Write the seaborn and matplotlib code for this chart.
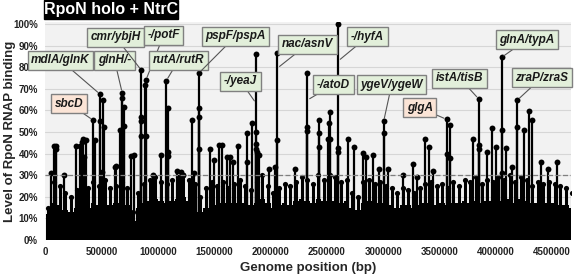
import matplotlib
matplotlib.use("Agg")
import matplotlib.pyplot as plt
import seaborn as sns
import pandas as pd

# dense background signal, one value per 50 kb window (start position)
floor_pos = list(range(0, 4700000, 50000))
floor_lo = [0.12, 0.17, 0.16, 0.14, 0.13, 0.15, 0.16, 0.15, 0.17, 0.16,
            0.17, 0.16, 0.17, 0.18, 0.16, 0.09, 0.15, 0.17, 0.18, 0.19,
            0.18, 0.17, 0.18, 0.19, 0.20, 0.18, 0.17, 0.13, 0.15, 0.17,
            0.16, 0.17, 0.16, 0.17, 0.18, 0.17, 0.16, 0.17, 0.19, 0.17,
            0.15, 0.16, 0.17, 0.16, 0.18, 0.19, 0.18, 0.17, 0.19, 0.18,
            0.19, 0.18, 0.17, 0.18, 0.15, 0.14, 0.17, 0.18, 0.17, 0.17,
            0.16, 0.16, 0.15, 0.16, 0.16, 0.15, 0.16, 0.17, 0.17, 0.16,
            0.17, 0.16, 0.17, 0.17, 0.18, 0.17, 0.18, 0.17, 0.18, 0.18,
            0.18, 0.18, 0.19, 0.17, 0.19, 0.18, 0.17, 0.17, 0.17, 0.17,
            0.17, 0.16, 0.16, 0.15]
floor_hi = [0.15, 0.27, 0.25, 0.22, 0.20, 0.23, 0.26, 0.24, 0.27, 0.25,
            0.28, 0.24, 0.25, 0.27, 0.24, 0.13, 0.22, 0.26, 0.28, 0.29,
            0.27, 0.26, 0.28, 0.29, 0.30, 0.28, 0.26, 0.20, 0.24, 0.27,
            0.25, 0.27, 0.24, 0.26, 0.28, 0.25, 0.23, 0.27, 0.30, 0.25,
            0.22, 0.24, 0.26, 0.25, 0.27, 0.29, 0.28, 0.26, 0.30, 0.28,
            0.30, 0.29, 0.27, 0.28, 0.22, 0.20, 0.27, 0.28, 0.26, 0.27,
            0.25, 0.24, 0.22, 0.24, 0.23, 0.22, 0.24, 0.26, 0.27, 0.25,
            0.26, 0.24, 0.27, 0.25, 0.28, 0.27, 0.29, 0.26, 0.28, 0.27,
            0.29, 0.28, 0.30, 0.27, 0.29, 0.28, 0.25, 0.27, 0.26, 0.27,
            0.26, 0.25, 0.24, 0.22]

# individual binding peaks (position bp, level)
peak_pos = [44000, 75000, 89000, 95000, 163000, 267000, 306000, 320000, 335000, 340000,
            356000, 420000, 435000, 483000, 483000, 504000, 510000, 518000, 613000, 622000,
            661000, 681000, 681000, 696000, 696000, 755000, 782000, 851000, 851000, 851000,
            851000, 880000, 892000, 892000, 951000, 1022000, 1073000, 1090000, 1090000, 1090000,
            1170000, 1200000, 1220000, 1300000, 1320000, 1366000, 1366000, 1366000, 1366000, 1464000,
            1500000, 1544000, 1564000, 1610000, 1640000, 1670000, 1707000, 1790000, 1793000, 1831000,
            1870000, 1870000, 1870000, 1870000, 1880000, 1895000, 1990000, 2040000, 2060000, 2060000,
            2216000, 2326000, 2326000, 2326000, 2427000, 2427000, 2427000, 2510000, 2517000, 2524000,
            2524000, 2600000, 2600000, 2600000, 2687000, 2738000, 2820000, 2850000, 2910000, 2960000,
            3005000, 3005000, 3040000, 3173000, 3262000, 3300000, 3372000, 3410000, 3440000, 3564000,
            3564000, 3597000, 3597000, 3796000, 3849000, 3849000, 3849000, 3926000, 3970000, 4000000,
            4053000, 4053000, 4053000, 4090000, 4150000, 4193000, 4193000, 4256000, 4297000, 4320000,
            4400000, 4470000, 4548000]
peak_level = [0.31, 0.437, 0.435, 0.42, 0.30, 0.437, 0.435, 0.455, 0.466, 0.385,
              0.463, 0.556, 0.463, 0.676, 0.55, 0.316, 0.648, 0.522, 0.34, 0.343,
              0.509, 0.682, 0.66, 0.614, 0.53, 0.39, 0.394, 0.787, 0.57, 0.55,
              0.48, 0.72, 0.741, 0.48, 0.30, 0.394, 0.738, 0.61, 0.41, 0.39,
              0.32, 0.316, 0.30, 0.556, 0.31, 0.775, 0.61, 0.57, 0.42, 0.42,
              0.37, 0.44, 0.44, 0.385, 0.385, 0.36, 0.435, 0.36, 0.494, 0.543,
              0.86, 0.50, 0.447, 0.42, 0.41, 0.394, 0.33, 0.34, 0.867, 0.463,
              0.328, 0.775, 0.525, 0.505, 0.556, 0.497, 0.432, 0.47, 0.54, 0.594,
              0.47, 1.0, 0.424, 0.41, 0.47, 0.432, 0.404, 0.386, 0.394, 0.33,
              0.55, 0.494, 0.33, 0.30, 0.354, 0.29, 0.466, 0.432, 0.32, 0.559,
              0.40, 0.535, 0.378, 0.47, 0.654, 0.44, 0.42, 0.41, 0.52, 0.43,
              0.846, 0.51, 0.31, 0.424, 0.34, 0.648, 0.525, 0.51, 0.599, 0.556,
              0.363, 0.33, 0.363]

# labelled loci: name, stem position, level the leader points to, label x, label y, known/new
label_names = ["sbcD", "mdlA/glnK", "glnH/-", "cmr/ybjH", "-/potF", "rutA/rutR", "pspF/pspA",
               "-/yeaJ", "nac/asnV", "-/hyfA", "-/atoD", "ygeV/ygeW", "glgA", "istA/tisB",
               "glnA/typA", "zraP/zraS"]
label_pos = [420000, 483000, 681000, 851000, 892000, 1073000, 1366000,
             1870000, 2060000, 2600000, 2326000, 3005000, 3564000, 3849000,
             4053000, 4193000]
label_at = [0.556, 0.676, 0.682, 0.787, 0.741, 0.738, 0.775,
            0.634, 0.796, 0.829, 0.648, 0.55, 0.559, 0.654,
            0.846, 0.648]
label_x = [209000, 133000, 613000, 622000, 1049000, 1182000, 1689000,
           1733000, 2329000, 2862000, 2560000, 3076000, 3324000, 3680000,
           4276000, 4409000]
label_y = [0.632, 0.833, 0.833, 0.940, 0.949, 0.833, 0.944,
           0.736, 0.907, 0.942, 0.720, 0.720, 0.613, 0.750,
           0.928, 0.752]
label_kind = ["other", "ntrc", "ntrc", "ntrc", "ntrc", "ntrc", "ntrc",
              "ntrc", "ntrc", "ntrc", "ntrc", "ntrc", "other", "ntrc",
              "ntrc", "ntrc"]

xticks = list(range(0, 5000000, 500000))
yticks = [i / 10 for i in range(11)]

sns.set_theme(style="ticks")
plt.rcParams["font.family"] = ["Liberation Sans", "DejaVu Sans"]
plt.rcParams["font.weight"] = "bold"

fig = plt.figure(figsize=(5.74, 2.74), dpi=100)
ax = fig.add_axes([45 / 574, 1 - 240 / 274, 526 / 574, 218 / 274])
ax.set_facecolor("#f2f2f2")

for y in yticks:
    ax.axhline(y, color="#d6d6d6", lw=0.8, zorder=0)

floor = pd.DataFrame({"pos": floor_pos, "lo": floor_lo, "hi": floor_hi})
peaks = pd.DataFrame({"pos": peak_pos, "level": peak_level})

# solid mass of the weak signal
ax.bar(floor["pos"], floor["lo"], width=50000, align="edge", color="black", lw=0, zorder=2)
ax.vlines(floor["pos"] + 25000, 0, floor["hi"], color="black", lw=2.2, zorder=2)
sns.scatterplot(data=floor, x=floor["pos"] + 25000, y="hi", color="black", s=14,
                linewidth=0, ax=ax, zorder=3)

# peaks
ax.vlines(peaks["pos"], 0, peaks["level"], color="black", lw=1.6, zorder=3)
sns.scatterplot(data=peaks, x="pos", y="level", color="black", s=18, linewidth=0,
                ax=ax, zorder=4)

ax.axhline(0.30, color="#7f7f7f", lw=0.9, ls=(0, (4, 2)), zorder=5)

box_colors = {"ntrc": "#e2efda", "other": "#fbe4d6"}
for name, px, py, tx, ty, kind in zip(label_names, label_pos, label_at,
                                      label_x, label_y, label_kind):
    ax.annotate(name, xy=(px, py), xytext=(tx, ty), ha="center", va="center",
                fontsize=8.5, fontweight="bold", style="italic", color="#1a1a1a",
                bbox=dict(boxstyle="square,pad=0.3", fc=box_colors[kind],
                          ec="#808080", lw=1),
                arrowprops=dict(arrowstyle="-", color="#555555", lw=0.8,
                                shrinkA=0, shrinkB=2),
                zorder=10, annotation_clip=False)

ax.set_xlim(-5000, 4670000)
ax.set_ylim(0, 1.01)
ax.set_xticks(xticks)
ax.set_xticklabels([str(v) for v in xticks], fontsize=7, fontweight="bold", color="#222222")
ax.set_yticks(yticks)
ax.set_yticklabels([f"{int(round(v * 100))}%" for v in yticks], fontsize=7,
                   fontweight="bold", color="#222222")
ax.tick_params(length=0, pad=5)
ax.set_xlabel("Genome position (bp)", fontsize=9.5, fontweight="bold", labelpad=4)
ax.set_ylabel("Level of RpoN RNAP binding", fontsize=9.5, fontweight="bold", va="center")
ax.yaxis.set_label_coords(-35 / 526, 0.5)
sns.despine(ax=ax, left=True, bottom=True)

# title banner
fig.patches.append(plt.Rectangle((44 / 574, 1 - 19 / 274), 134 / 574, 19 / 274,
                                 transform=fig.transFigure, color="black", zorder=20))
fig.text(111 / 574, 1 - 9.5 / 274, "RpoN holo + NtrC", color="white", fontsize=11.5,
         fontweight="bold", ha="center", va="center", zorder=21)

fig.savefig("out.png", dpi=100)
plt.close(fig)
